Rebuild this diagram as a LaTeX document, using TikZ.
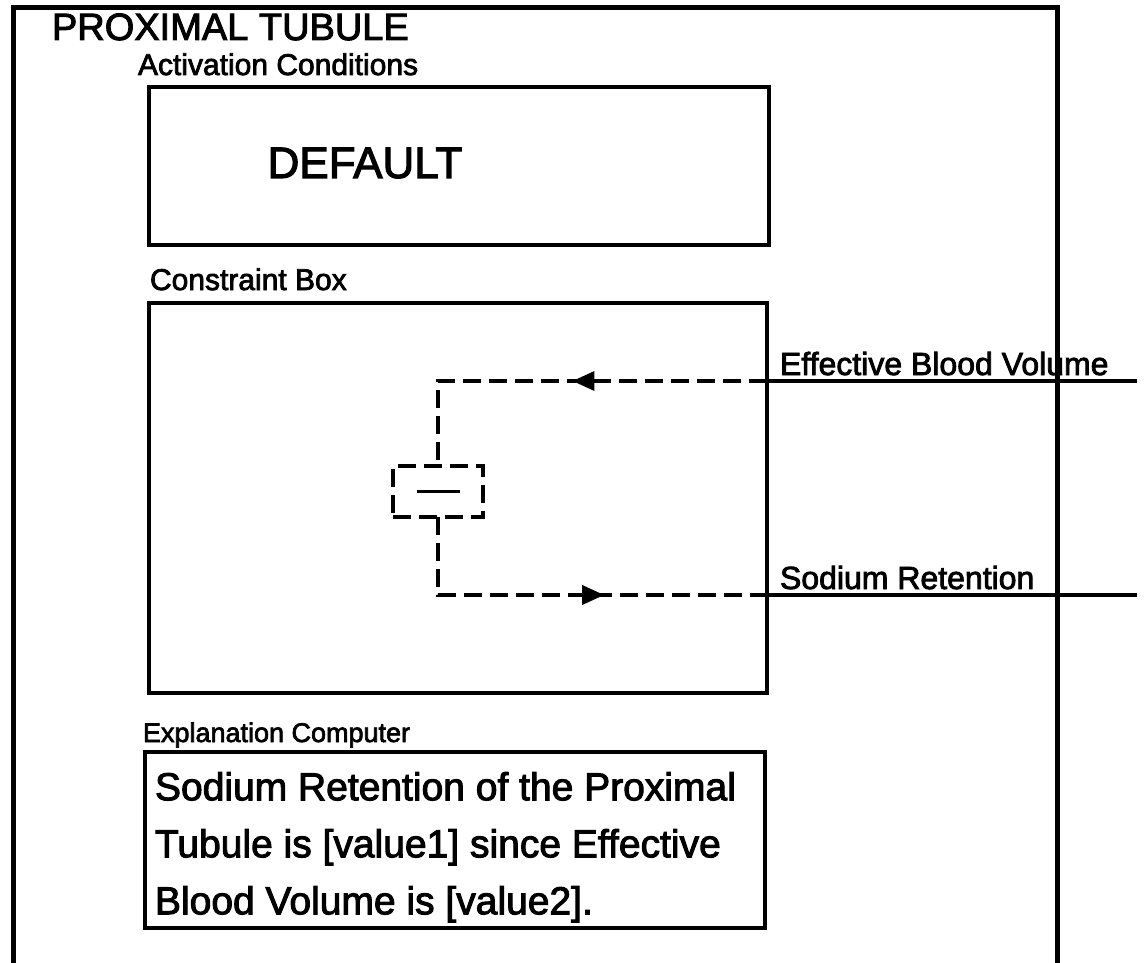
\documentclass[tikz,border=0pt]{standalone}
\usepackage{fontspec}
\setmainfont{Liberation Sans}[FakeBold=2.5]
\usetikzlibrary{arrows.meta}
\usetikzlibrary{positioning}
\usetikzlibrary{decorations.markings}
\tikzstyle{every node}=[inner sep=0pt, outer sep=0pt]
\tikzstyle{panel}=[rectangle, draw=black, line width=4.5pt]
\tikzstyle{caption}=[anchor=base west, font=\fontsize{30}{32}\selectfont]
\tikzstyle{dashline}=[line width=3.5pt, dash pattern=on 18pt off 8pt]
\tikzstyle{wire}=[line width=3.5pt]

\begin{document}
\begin{tikzpicture}[x=1pt, y=-1pt]
	\useasboundingbox (0,0) rectangle (1144,963);

    % Outer frame, open at the bottom
    \draw[line width=5pt] (13,963) |- (1057,8) -- (1057,963);
    \node[anchor=base west, font=\fontsize{38}{40}\selectfont] (title) at (52,40) {PROXIMAL TUBULE};

    % Activation conditions
    \node[caption] (actlabel) at (138,75) {Activation Conditions};
    \node[panel, minimum width=620, minimum height=158] (act) at (459,166) {};
    \node[anchor=base, font=\fontsize{44}{46}\selectfont] (default) at (365,178) {DEFAULT};

    % Constraint box
    \node[caption] (conlabel) at (150,290) {Constraint Box};
    \node[panel, minimum width=618, minimum height=390] (con) at (458,498) {};

    % Comparison in the middle of the box
    \node[draw, dashline, minimum width=90, minimum height=51] (cmp) at (438,491.5) {\rule{43pt}{3.5pt}};

    % Input and output lines
    \coordinate (ebvin) at (767,381);
    \coordinate (ebvend) at (1137,381);
    \coordinate (srout) at (767,595);
    \coordinate (srend) at (1137,595);
    \draw[wire] (ebvin) -- (ebvend);
    \draw[wire] (srout) -- (srend);
    \node[caption, font=\fontsize{32}{34}\selectfont] (ebv) at (780,375) {Effective Blood Volume};
    \node[caption, font=\fontsize{32}{34}\selectfont] (sr) at (780,589) {Sodium Retention};

    \draw[dashline, postaction={decorate}, decoration={markings, mark=at position 0.47 with {\arrow{Triangle[length=22pt, width=19pt]}}}] (ebvin) -| (cmp.north);
    \draw[dashline, postaction={decorate}, decoration={markings, mark=at position 0.6 with {\arrow{Triangle[length=22pt, width=19pt]}}}] (cmp.south) |- (srout);

    % Explanation computer
    \node[caption, font=\fontsize{27}{29}\selectfont] (explabel) at (143,742) {Explanation Computer};
    \node[panel, minimum width=620, minimum height=176] (exp) at (455,840) {};
    \node[anchor=north west, align=left, font=\fontsize{39}{57}\selectfont] (exptext) at (155,772) {Sodium Retention of the Proximal\\Tubule is [value1] since Effective\\Blood Volume is [value2].};

\end{tikzpicture}
\end{document}
